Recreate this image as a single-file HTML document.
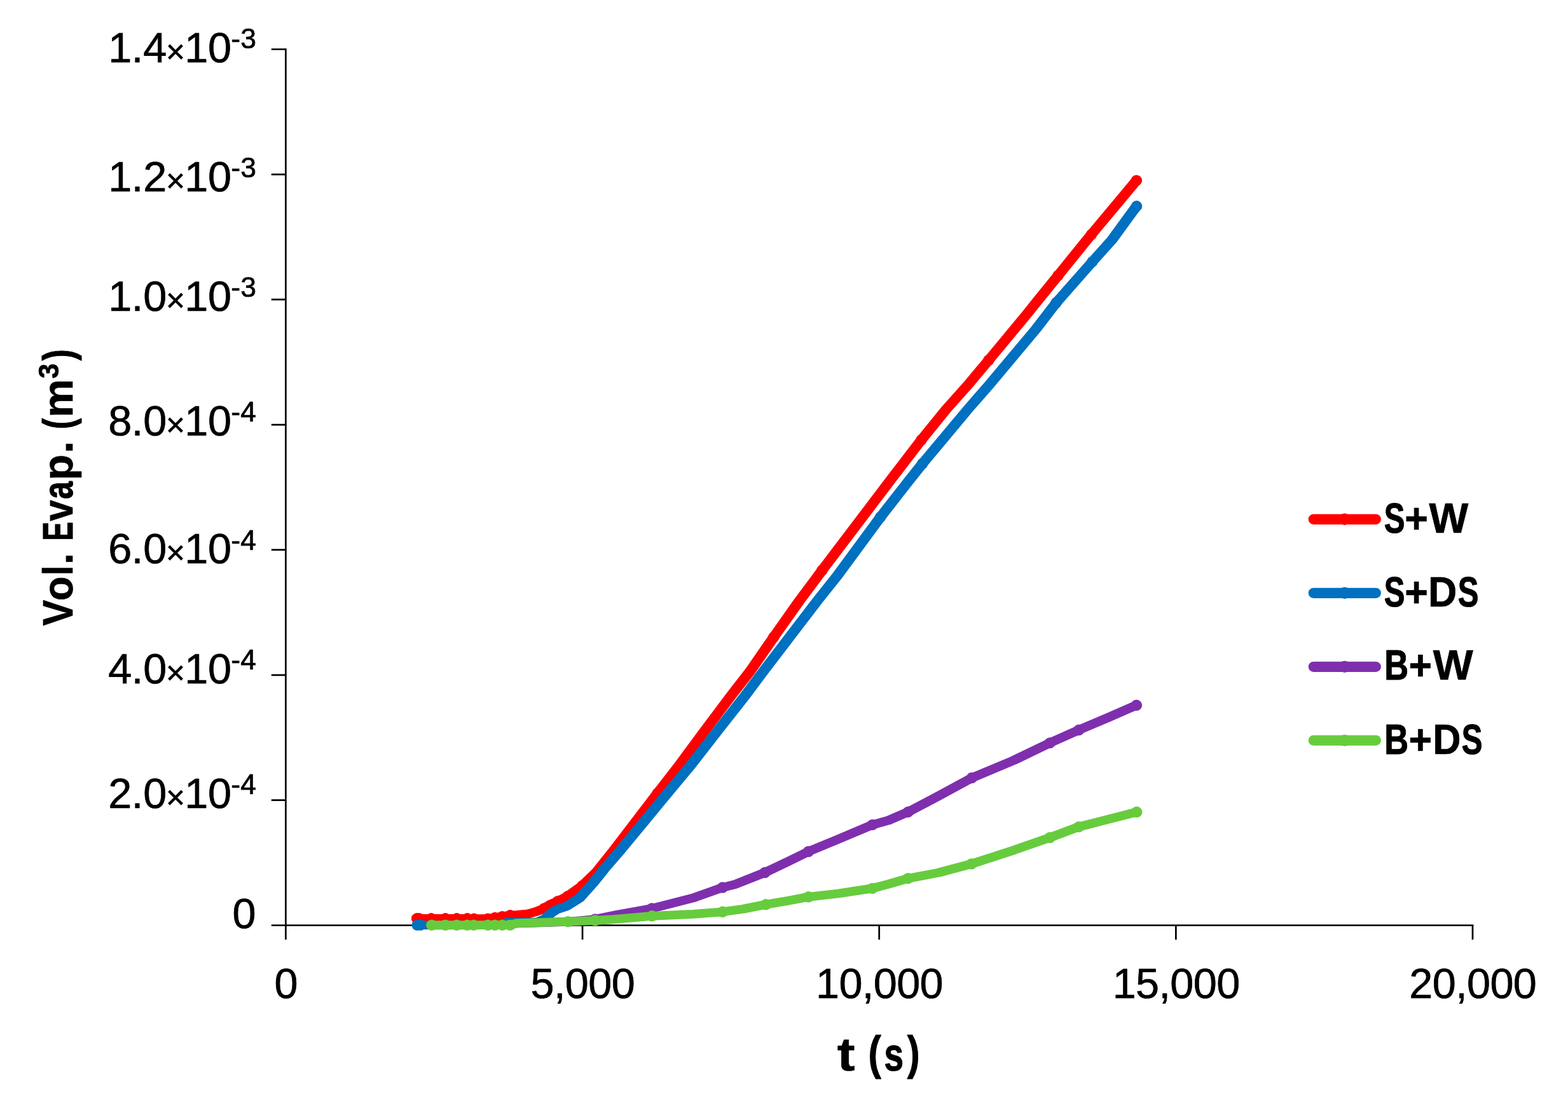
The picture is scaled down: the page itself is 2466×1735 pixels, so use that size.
<!DOCTYPE html>
<html lang="en"><head><meta charset="utf-8"><title>Vol. Evap. (m3) vs t (s)</title>
<style>html,body{margin:0;padding:0;background:#fff}body{width:2466px;height:1735px;overflow:hidden}svg{display:block}text{font-family:"Liberation Sans",sans-serif;fill:#000;white-space:pre}</style>
</head><body>
<svg width="2466" height="1735" viewBox="0 0 2466 1735">
<rect width="2466" height="1735" fill="#fff"/>
<g id="axes" stroke="#000" stroke-width="2.7" fill="none" stroke-linecap="butt">
<path d="M449.4 76.15 V1478.1"/>
<path d="M426.8 1455.5 H2317.35"/>
<path d="M426.8 1258.64 H449.4 M426.8 1061.79 H449.4 M426.8 864.93 H449.4 M426.8 668.07 H449.4 M426.8 471.21 H449.4 M426.8 274.36 H449.4 M426.8 77.5 H449.4 M916.05 1455.5 V1478.1 M1382.7 1455.5 V1478.1 M1849.35 1455.5 V1478.1 M2316 1455.5 V1478.1"/>
</g>
<g id="series-red" fill="#ff0000" stroke="none">
<polyline transform="scale(1.26 1)" points="520.32,1444.8 523.02,1444.8 538.33,1444.8 555.95,1444.8 570.16,1444.8 583.33,1444.8 591.67,1445.2 609.05,1445.2 617.78,1443.5 626.98,1441.6 636.67,1439.8 645.4,1439.2 659.92,1437.3 669.6,1433.8 679.29,1429 687.3,1422.3 696.19,1417.6 708.73,1409.6 726.83,1393.1 744.6,1371.6 766.03,1337.9 820.71,1247.9 846.59,1206 879.52,1149.7 912.7,1094 936.19,1056 965.87,1002 998.41,944 1020.95,906 1026.19,897 1088.17,794 1111.03,756 1150,692 1180.95,644 1207.86,606 1234.13,566.5 1281.83,494 1293.25,476 1320.63,433.5 1357.54,376 1362.3,368.8 1418.49,283.9" fill="none" stroke="#ff0000" stroke-width="13.8" stroke-linejoin="round" stroke-linecap="round"/>
<circle cx="655.6" cy="1444.8" r="8.7"/>
<circle cx="659" cy="1444.8" r="8.7"/>
<circle cx="678.3" cy="1444.8" r="8.7"/>
<circle cx="700.5" cy="1444.8" r="8.7"/>
<circle cx="718.4" cy="1444.8" r="8.7"/>
<circle cx="735" cy="1444.8" r="8.7"/>
<circle cx="745.5" cy="1445.2" r="8.7"/>
<circle cx="767.4" cy="1445.2" r="8.7"/>
<circle cx="778.4" cy="1443.5" r="8.7"/>
<circle cx="790" cy="1441.6" r="8.7"/>
<circle cx="802.2" cy="1439.8" r="8.7"/>
<circle cx="855.9" cy="1429" r="8.7"/>
<circle cx="877.2" cy="1417.6" r="8.7"/>
<circle cx="893" cy="1409.6" r="8.7"/>
<circle cx="915.8" cy="1393.1" r="8.7"/>
<circle cx="1034.1" cy="1247.9" r="8.7"/>
<circle cx="1217" cy="1002" r="8.7"/>
<circle cx="1293" cy="897" r="8.7"/>
<circle cx="1449" cy="692" r="8.7"/>
<circle cx="1555" cy="566.5" r="8.7"/>
<circle cx="1664" cy="433.5" r="8.7"/>
<circle cx="1716.5" cy="368.8" r="8.7"/>
<circle cx="1787.3" cy="283.9" r="8.7"/>
</g>
<g id="series-blue" fill="#0070c0" stroke="none">
<polyline transform="scale(1.26 1)" points="520.79,1455.1 524.76,1455.1 538.73,1455.1 626.98,1455.1 633.33,1450.6 670.63,1450.4 680.4,1444.9 687.7,1436.5 694.92,1430.6 707.38,1425.3 723.49,1412.5 740.32,1388.8 753.97,1367.2 774.05,1337.9 832.94,1247.9 860.71,1206 895.56,1149.7 930.24,1094 952.78,1056 1020.79,944 1044.84,906 1099.21,813 1110.95,794 1134.52,756 1151.59,729 1207.94,644 1234.29,606 1293.65,516.7 1318.49,476 1363.49,411.6 1388.1,377 1418.65,324.3" fill="none" stroke="#0070c0" stroke-width="13.8" stroke-linejoin="round" stroke-linecap="round"/>
<circle cx="656.2" cy="1455.1" r="8.7"/>
<circle cx="661.2" cy="1455.1" r="8.7"/>
<circle cx="1385" cy="813" r="8.7"/>
<circle cx="1451" cy="729" r="8.7"/>
<circle cx="1661.3" cy="476" r="8.7"/>
<circle cx="1718" cy="411.6" r="8.7"/>
<circle cx="1787.5" cy="324.3" r="8.7"/>
</g>
<g id="series-purple" fill="#7f2fae" stroke="none">
<polyline transform="scale(1.26 1)" points="538.33,1455.3 636.67,1455.1 644.44,1452.4 667.46,1451.6 708.89,1449.8 742.86,1446 769.84,1439 813.73,1429 865.63,1412.3 901.9,1396 917.46,1391.1 954.76,1372.5 984.13,1354.9 1009.05,1339.5 1046.35,1320 1088.89,1297.4 1108.57,1290.6 1133.49,1277.2 1170.79,1252.6 1213.02,1223.6 1265.32,1196 1310.48,1168.6 1346.51,1148.3 1383.25,1128.6 1418.49,1109.3" fill="none" stroke="#7f2fae" stroke-width="13.8" stroke-linejoin="round" stroke-linecap="round"/>
<circle cx="936" cy="1446" r="8.7"/>
<circle cx="1025.3" cy="1429" r="8.7"/>
<circle cx="1136.4" cy="1396" r="8.7"/>
<circle cx="1203" cy="1372.5" r="8.7"/>
<circle cx="1271.4" cy="1339.5" r="8.7"/>
<circle cx="1372" cy="1297.4" r="8.7"/>
<circle cx="1428.2" cy="1277.2" r="8.7"/>
<circle cx="1528.4" cy="1223.6" r="8.7"/>
<circle cx="1651.2" cy="1168.6" r="8.7"/>
<circle cx="1696.6" cy="1148.3" r="8.7"/>
<circle cx="1787.3" cy="1109.3" r="8.7"/>
</g>
<g id="series-green" fill="#66cc3d" stroke="none">
<polyline transform="scale(1.26 1)" points="538.81,1455.1 555.95,1455.1 570.16,1455.1 583.33,1455.1 591.27,1455.1 609.05,1455.1 617.78,1455.1 626.98,1455.1 636.67,1455.1 644.44,1452.2 667.46,1451.3 698.41,1450.2 708.89,1449.7 742.86,1447.8 761.9,1446.5 813.73,1440.8 865.63,1437.8 901.9,1434.3 927.86,1429.7 955.87,1422.8 984.13,1416.7 1009.05,1410.8 1046.35,1405.5 1088.89,1397.4 1108.57,1390.8 1133.49,1381.7 1170.79,1372.9 1212.7,1358.9 1265.32,1337.3 1310.48,1317.5 1346.51,1300.6 1383.25,1288.8 1418.81,1277.3" fill="none" stroke="#66cc3d" stroke-width="13.8" stroke-linejoin="round" stroke-linecap="round"/>
<circle cx="678.9" cy="1455.1" r="8.7"/>
<circle cx="700.5" cy="1455.1" r="8.7"/>
<circle cx="718.4" cy="1455.1" r="8.7"/>
<circle cx="735" cy="1455.1" r="8.7"/>
<circle cx="745" cy="1455.1" r="8.7"/>
<circle cx="767.4" cy="1455.1" r="8.7"/>
<circle cx="778.4" cy="1455.1" r="8.7"/>
<circle cx="790" cy="1455.1" r="8.7"/>
<circle cx="802.2" cy="1455.1" r="8.7"/>
<circle cx="893.2" cy="1449.7" r="8.7"/>
<circle cx="936" cy="1447.8" r="8.7"/>
<circle cx="1025.3" cy="1440.8" r="8.7"/>
<circle cx="1136.4" cy="1434.3" r="8.7"/>
<circle cx="1204.4" cy="1422.8" r="8.7"/>
<circle cx="1271.4" cy="1410.8" r="8.7"/>
<circle cx="1372" cy="1397.4" r="8.7"/>
<circle cx="1428.2" cy="1381.7" r="8.7"/>
<circle cx="1528" cy="1358.9" r="8.7"/>
<circle cx="1651.2" cy="1317.5" r="8.7"/>
<circle cx="1696.6" cy="1300.6" r="8.7"/>
<circle cx="1787.7" cy="1277.3" r="8.7"/>
</g>
<g id="y-labels" font-size="66.6" stroke="#000" stroke-width="0.7" stroke-linejoin="round">
<text y="98"><tspan x="170.28">1</tspan><tspan x="206.75">.</tspan><tspan x="225.13">4</tspan><tspan x="260.93" font-size="51.4" dy="1.1">×</tspan><tspan x="290.18" dy="-1.1">1</tspan><tspan x="327.03">0</tspan><tspan x="363.34" font-size="44.5" dy="-21.8">-</tspan><tspan x="378.26" font-size="44.5">3</tspan></text>
<text y="300.6"><tspan x="170.28">1</tspan><tspan x="206.75">.</tspan><tspan x="225.13">2</tspan><tspan x="260.93" font-size="51.4" dy="1.1">×</tspan><tspan x="290.18" dy="-1.1">1</tspan><tspan x="327.03">0</tspan><tspan x="363.34" font-size="44.5" dy="-21.8">-</tspan><tspan x="378.26" font-size="44.5">3</tspan></text>
<text y="488.8"><tspan x="170.28">1</tspan><tspan x="206.75">.</tspan><tspan x="225.13">0</tspan><tspan x="260.93" font-size="51.4" dy="1.1">×</tspan><tspan x="290.18" dy="-1.1">1</tspan><tspan x="327.03">0</tspan><tspan x="363.34" font-size="44.5" dy="-21.8">-</tspan><tspan x="378.26" font-size="44.5">3</tspan></text>
<text y="684.7"><tspan x="170.28">8</tspan><tspan x="206.75">.</tspan><tspan x="225.13">0</tspan><tspan x="260.93" font-size="51.4" dy="1.1">×</tspan><tspan x="290.18" dy="-1.1">1</tspan><tspan x="327.03">0</tspan><tspan x="363.34" font-size="44.5" dy="-21.8">-</tspan><tspan x="378.27" font-size="44.5">4</tspan></text>
<text y="886.3"><tspan x="170.28">6</tspan><tspan x="206.75">.</tspan><tspan x="225.13">0</tspan><tspan x="260.93" font-size="51.4" dy="1.1">×</tspan><tspan x="290.18" dy="-1.1">1</tspan><tspan x="327.03">0</tspan><tspan x="363.34" font-size="44.5" dy="-21.8">-</tspan><tspan x="378.27" font-size="44.5">4</tspan></text>
<text y="1074.5"><tspan x="170.28">4</tspan><tspan x="206.75">.</tspan><tspan x="225.13">0</tspan><tspan x="260.93" font-size="51.4" dy="1.1">×</tspan><tspan x="290.18" dy="-1.1">1</tspan><tspan x="327.03">0</tspan><tspan x="363.34" font-size="44.5" dy="-21.8">-</tspan><tspan x="378.27" font-size="44.5">4</tspan></text>
<text y="1270.6"><tspan x="170.28">2</tspan><tspan x="206.75">.</tspan><tspan x="225.13">0</tspan><tspan x="260.93" font-size="51.4" dy="1.1">×</tspan><tspan x="290.18" dy="-1.1">1</tspan><tspan x="327.03">0</tspan><tspan x="363.34" font-size="44.5" dy="-21.8">-</tspan><tspan x="378.27" font-size="44.5">4</tspan></text>
<text y="1459.5"><tspan x="365.58">0</tspan></text>
</g>
<g id="x-labels" font-size="66.6" stroke="#000" stroke-width="0.7" stroke-linejoin="round">
<text x="449.7" y="1570.3" text-anchor="middle" letter-spacing="-0.63">0</text>
<text x="916.35" y="1570.3" text-anchor="middle" letter-spacing="-0.63">5,000</text>
<text x="1383" y="1570.3" text-anchor="middle" letter-spacing="-0.63">10,000</text>
<text x="1849.65" y="1570.3" text-anchor="middle" letter-spacing="-0.63">15,000</text>
<text x="2316.3" y="1570.3" text-anchor="middle" letter-spacing="-0.63">20,000</text>
</g>
<g id="titles" stroke="#000" stroke-linejoin="round">
<text transform="translate(114 1000) rotate(-90)" font-weight="bold" font-size="67" y="0"><tspan x="15.63" textLength="40.73" lengthAdjust="spacingAndGlyphs" stroke-width="0.7">V</tspan><tspan x="54.9" textLength="38.3" lengthAdjust="spacingAndGlyphs" stroke-width="0.7">o</tspan><tspan x="94.68" textLength="15.79" lengthAdjust="spacingAndGlyphs" stroke-width="0.7">l</tspan><tspan x="112.03" textLength="18.11" lengthAdjust="spacingAndGlyphs" stroke-width="0.7">.</tspan> <tspan x="149.25" textLength="29.96" lengthAdjust="spacingAndGlyphs" stroke-width="1.1">E</tspan><tspan x="180.32" textLength="33.2" lengthAdjust="spacingAndGlyphs" stroke-width="0.7">v</tspan><tspan x="214.89" textLength="27.74" lengthAdjust="spacingAndGlyphs" stroke-width="1.1">a</tspan><tspan x="244.47" textLength="40.61" lengthAdjust="spacingAndGlyphs" stroke-width="0.7">p</tspan><tspan x="286.74" textLength="19.69" lengthAdjust="spacingAndGlyphs" stroke-width="0.7">.</tspan> <tspan x="324.77" textLength="17.23" lengthAdjust="spacingAndGlyphs" stroke-width="1.1">(</tspan><tspan x="343.35" textLength="60.74" lengthAdjust="spacingAndGlyphs" stroke-width="0.7">m</tspan><tspan x="404.57" textLength="23.83" lengthAdjust="spacingAndGlyphs" font-size="45.2" dy="-22.2" stroke-width="0.7">3</tspan><tspan x="432.7" textLength="18.05" lengthAdjust="spacingAndGlyphs" dy="22.2" stroke-width="1.1">)</tspan></text>
<text y="1684.3" font-weight="bold" font-size="74.6"><tspan x="1316.83" textLength="27.84" lengthAdjust="spacingAndGlyphs" stroke-width="0.7">t</tspan> <tspan x="1365.51" textLength="20.29" lengthAdjust="spacingAndGlyphs" dy="-2.2" stroke-width="1.1">(</tspan><tspan x="1390.52" textLength="30.59" lengthAdjust="spacingAndGlyphs" dy="2.2" stroke-width="1.1">s</tspan><tspan x="1426.79" textLength="19.82" lengthAdjust="spacingAndGlyphs" dy="-2.2" stroke-width="1.1">)</tspan></text>
</g>
<g id="legend">
<line x1="2065.8" y1="816.8" x2="2163.8" y2="816.8" stroke="#ff0000" stroke-width="16.2" stroke-linecap="round"/>
<circle cx="2114.7" cy="816.8" r="9.2" fill="#ff0000"/>
<line x1="2065.8" y1="932.8" x2="2163.8" y2="932.8" stroke="#0070c0" stroke-width="16.2" stroke-linecap="round"/>
<circle cx="2114.7" cy="932.8" r="9.2" fill="#0070c0"/>
<line x1="2065.8" y1="1048.8" x2="2163.8" y2="1048.8" stroke="#7f2fae" stroke-width="16.2" stroke-linecap="round"/>
<circle cx="2114.7" cy="1048.8" r="9.2" fill="#7f2fae"/>
<line x1="2065.8" y1="1164.6" x2="2163.8" y2="1164.6" stroke="#66cc3d" stroke-width="16.2" stroke-linecap="round"/>
<circle cx="2114.7" cy="1164.6" r="9.2" fill="#66cc3d"/>
<g font-weight="bold" font-size="67" stroke="#000" stroke-linejoin="round">
<text y="838.2"><tspan x="2176.74" textLength="32.73" lengthAdjust="spacingAndGlyphs" stroke-width="1.1">S</tspan><tspan x="2209.31" textLength="36.68" lengthAdjust="spacingAndGlyphs" stroke-width="0.7">+</tspan><tspan x="2247.59" textLength="61.83" lengthAdjust="spacingAndGlyphs" stroke-width="0.7">W</tspan></text>
<text y="954.2"><tspan x="2176.74" textLength="32.73" lengthAdjust="spacingAndGlyphs" stroke-width="1.1">S</tspan><tspan x="2209.31" textLength="36.68" lengthAdjust="spacingAndGlyphs" stroke-width="0.7">+</tspan><tspan x="2246.05" textLength="45.34" lengthAdjust="spacingAndGlyphs" stroke-width="0.7">D</tspan><tspan x="2292.64" textLength="32.73" lengthAdjust="spacingAndGlyphs" stroke-width="1.1">S</tspan></text>
<text y="1069.4"><tspan x="2177.24" textLength="37.89" lengthAdjust="spacingAndGlyphs" stroke-width="1.1">B</tspan><tspan x="2215.41" textLength="36.68" lengthAdjust="spacingAndGlyphs" stroke-width="0.7">+</tspan><tspan x="2253.68" textLength="63.03" lengthAdjust="spacingAndGlyphs" stroke-width="0.7">W</tspan></text>
<text y="1185.6"><tspan x="2177.24" textLength="37.89" lengthAdjust="spacingAndGlyphs" stroke-width="1.1">B</tspan><tspan x="2215.41" textLength="36.68" lengthAdjust="spacingAndGlyphs" stroke-width="0.7">+</tspan><tspan x="2253.15" textLength="44.28" lengthAdjust="spacingAndGlyphs" stroke-width="0.7">D</tspan><tspan x="2298.74" textLength="32.73" lengthAdjust="spacingAndGlyphs" stroke-width="1.1">S</tspan></text>
</g></g>
</svg>
</body></html>
